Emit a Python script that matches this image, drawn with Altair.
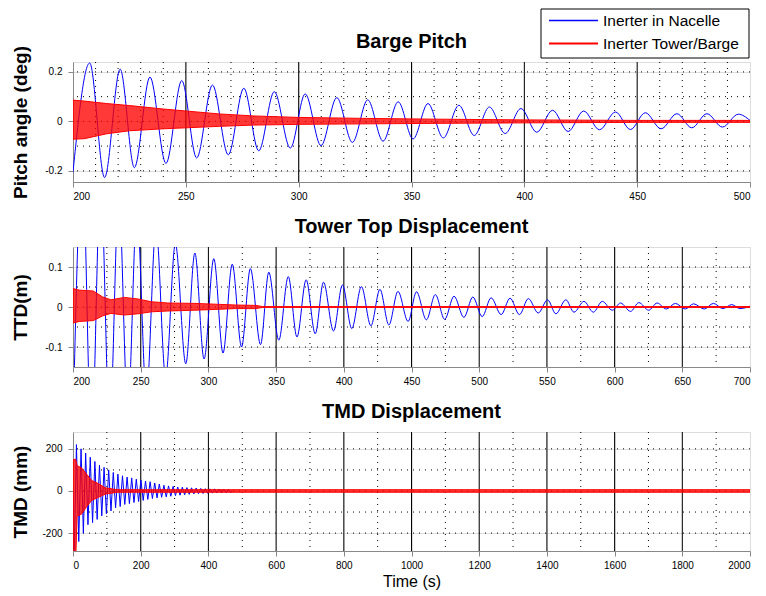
import altair as alt
import pandas as pd

FONT = "Liberation Sans"
BLUE = "#0000FF"
RED = "#FF0000"

legend_labels = ["Inerter in Nacelle", "Inerter Tower/Barge"]

# ---------------- Panel 1 : Barge Pitch ----------------
pitch_titles = ["Barge Pitch", "Pitch angle (deg)"]
pitch_xticks = [200, 250, 300, 350, 400, 450, 500]
pitch_yticks = [-0.2, 0, 0.2]
pitch_x_major = [250, 300, 350, 400, 450]
pitch_x_minor = [210, 220, 230, 240, 260, 270, 280, 290, 310, 320, 330, 340,
                 360, 370, 380, 390, 410, 420, 430, 440, 460, 470, 480, 490]
pitch_y_grid = [-0.2, -0.1, 0, 0.1, 0.2]

pitch_blue_t = [200.0, 207.4, 214.0, 220.9, 227.2, 234.1, 241.2, 248.2, 254.8, 261.8,
                268.8, 275.7, 282.3, 289.2, 296.3, 302.9, 309.9, 316.9, 323.8, 330.6,
                337.4, 344.1, 350.7, 357.3, 364.1, 371.0, 377.8, 384.5, 391.5, 398.5,
                405.5, 412.5, 419.4, 426.3, 433.3, 440.4, 447.0, 453.6, 460.6, 467.6,
                474.2, 480.9, 487.8, 494.8, 500.0]
pitch_blue_v = [-0.205, 0.236, -0.227, 0.211, -0.187, 0.179, -0.170, 0.165, -0.148, 0.147,
                -0.135, 0.134, -0.119, 0.120, -0.108, 0.111, -0.098, 0.096, -0.085, 0.087,
                -0.080, 0.079, -0.071, 0.072, -0.067, 0.065, -0.057, 0.058, -0.049, 0.052,
                -0.044, 0.045, -0.041, 0.042, -0.034, 0.038, -0.033, 0.035, -0.030, 0.031,
                -0.026, 0.031, -0.023, 0.029, 0.004]

pitch_red_t = [200, 205, 215, 225, 240, 250, 265, 280, 300, 330, 360, 400, 450, 500]
pitch_red_hi = [0.086, 0.082, 0.072, 0.064, 0.050, 0.042, 0.030, 0.022, 0.016, 0.012,
                0.009, 0.006, 0.004, 0.004]
pitch_red_lo = [-0.072, -0.070, -0.050, -0.038, -0.030, -0.026, -0.020, -0.015, -0.012,
                -0.010, -0.008, -0.006, -0.004, -0.004]

# ---------------- Panel 2 : Tower Top Displacement ----------------
ttd_titles = ["Tower Top Displacement", "TTD(m)"]
ttd_xticks = [200, 250, 300, 350, 400, 450, 500, 550, 600, 650, 700]
ttd_yticks = [-0.1, 0, 0.1]
ttd_x_major = [250, 300, 350, 400, 450, 500, 550, 600, 650]
ttd_x_minor = [225, 275, 325, 375, 425, 475, 525, 575, 625, 675]
ttd_y_grid = [-0.1, -0.05, 0, 0.05, 0.1]

ttd_blue_t = [200.0, 206.9, 213.7, 220.4, 227.1, 233.8, 240.5, 247.2, 254.2, 261.3,
              268.4, 275.6, 283.3, 290.0, 296.8, 304.0, 310.8, 317.6, 324.5, 331.0,
              338.5, 344.6, 352.0, 359.0, 365.4, 372.2, 378.9, 385.0, 392.4, 399.0,
              405.9, 413.0, 420.0, 426.7, 433.3, 440.0, 447.5, 453.7, 461.0, 467.6,
              474.5, 481.4, 488.7, 495.3, 502.2, 508.8, 516.2, 522.8, 529.7, 536.3,
              543.6, 550.5, 556.6, 564.0, 570.0, 577.4, 584.3, 590.9, 598.3, 604.4,
              611.8, 617.9, 625.2, 631.4, 638.2, 644.9, 652.2, 658.3, 666.2, 673.0,
              680.0, 686.5, 692.6, 700.0]
ttd_blue_v = [-0.30, 0.36, -0.34, 0.32, -0.30, 0.28, -0.26, 0.24, -0.22, 0.20,
              -0.175, 0.158, -0.142, 0.135, -0.13, 0.121, -0.115, 0.107, -0.10, 0.096,
              -0.094, 0.087, -0.083, 0.076, -0.075, 0.068, -0.067, 0.062, -0.06, 0.055,
              -0.054, 0.051, -0.047, 0.044, -0.045, 0.039, -0.036, 0.038, -0.032, 0.031,
              -0.031, 0.027, -0.026, 0.025, -0.024, 0.023, -0.019, 0.022, -0.019, 0.021,
              -0.015, 0.018, -0.017, 0.018, -0.013, 0.014, -0.013, 0.014, -0.008, 0.010,
              -0.011, 0.011, -0.008, 0.010, -0.005, 0.009, -0.005, 0.008, -0.005, 0.009,
              -0.004, 0.006, -0.004, 0.002]

ttd_red_t = [200, 205, 215, 222, 228, 238, 248, 258, 270, 290, 305, 320, 335, 340, 700]
ttd_red_hi = [0.046, 0.042, 0.040, 0.025, 0.018, 0.024, 0.020, 0.013, 0.010, 0.009,
              0.007, 0.005, 0.004, 0.001, 0.001]
ttd_red_lo = [-0.040, -0.036, -0.034, -0.022, -0.016, -0.020, -0.017, -0.012, -0.010,
              -0.008, -0.006, -0.004, -0.004, -0.001, -0.001]

# ---------------- Panel 3 : TMD Displacement ----------------
tmd_titles = ["TMD Displacement", "TMD  (mm)", "Time (s)"]
tmd_xticks = [0, 200, 400, 600, 800, 1000, 1200, 1400, 1600, 1800, 2000]
tmd_yticks = [-200, 0, 200]
tmd_x_major = [200, 400, 600, 800, 1000, 1200, 1400, 1600, 1800]
tmd_x_minor = [100, 300, 500, 700, 900, 1100, 1300, 1500, 1700, 1900]
tmd_y_grid = [-200, -100, 0, 100, 200]

tmd_blue_t = [0, 3.4, 10.2, 17.0, 23.8, 30.6, 37.4, 44.2, 51.0, 57.8,
              64.6, 71.4, 78.2, 85.0, 91.8, 98.6, 105.4, 112.2, 119.0, 125.8,
              132.6, 139.4, 146.2, 153.0, 159.8, 166.6, 173.4, 180.2, 187.0, 193.8,
              200.6, 207.4, 214.2, 221.0, 227.8, 234.6, 241.4, 248.2, 255.0, 261.8,
              268.6, 275.4, 282.2, 289.0, 295.8, 302.6, 309.4, 316.2, 323.0, 329.8,
              336.6, 343.4, 350.2, 357.0, 363.8, 370.6, 377.4, 384.2, 391.0, 397.8,
              404.6, 411.4, 418.2, 425.0, 431.8, 438.6, 445.4, 452.2, 459.0, 465.8,
              470.0]
tmd_blue_v = [0, -330, 220, -240, 200, -200, 180, -160, 160, -150,
              140, -135, 122, -118, 112, -108, 100, -95, 88, -80,
              80, -74, 72, -64, 66, -60, 62, -55, 56, -50,
              52, -45, 47, -40, 44, -36, 38, -33, 33, -30,
              27, -28, 24, -25, 22, -22, 19, -20, 18, -18,
              16, -16, 15, -14, 14, -13, 12, -12, 11, -11,
              10, -10, 10, -9, 9, -9, 8, -8, 8, -7,
              0]

tmd_red_t = [0, 1, 8, 12, 25, 40, 55, 75, 95, 130, 2000]
tmd_red_hi = [0, 150, 150, 120, 110, 80, 50, 35, 15, 6, 6]
tmd_red_lo = [0, -330, -330, -120, -110, -75, -45, -30, -15, -6, -6]

W = 677
NEG_LABEL = "datum.value < 0 ? '-' + format(-datum.value, '~g') : format(datum.value, '~g')"
ONE = pd.DataFrame({"k": [0]})


def panel(titles, xdom, xticks, ydom, yticks, x_major, x_minor, y_grid,
          blue_t, blue_v, red_t, red_hi, red_lo, interp):
    xs = alt.Scale(domain=xdom, nice=False, zero=False)
    ys = alt.Scale(domain=ydom, nice=False, zero=False)
    xtitle = titles[2] if len(titles) > 2 else None
    xax = alt.Axis(values=xticks, title=xtitle, labelPadding=4, titlePadding=3,
                   titleFontSize=16, titleFontWeight="normal", labelExpr=NEG_LABEL)
    yax = alt.Axis(values=yticks, title=titles[1], labelPadding=6, titlePadding=3,
                   minExtent=40, maxExtent=40, titleFontSize=19,
                   titleFontWeight="bold", labelExpr=NEG_LABEL)
    X = alt.X("t:Q", scale=xs, axis=xax)
    Y = alt.Y("v:Q", scale=ys, axis=yax)

    minor = alt.Chart(pd.DataFrame({"t": x_minor})).mark_rule(
        color="black", strokeWidth=1, strokeDash=[1, 5]).encode(x=X)
    major = alt.Chart(pd.DataFrame({"t": x_major})).mark_rule(
        color="black", strokeWidth=1).encode(x=X)
    hgrid = alt.Chart(pd.DataFrame({"v": y_grid})).mark_rule(
        color="black", strokeWidth=1, strokeDash=[1, 5]).encode(y=Y)
    blue = alt.Chart(pd.DataFrame({"t": blue_t, "v": blue_v})).mark_line(
        color=BLUE, strokeWidth=1, interpolate=interp, clip=True).encode(x=X, y=Y)
    red = alt.Chart(pd.DataFrame({"t": red_t, "hi": red_hi, "lo": red_lo})).mark_area(
        fill=RED, fillOpacity=0.78, stroke=RED, strokeWidth=1, clip=True).encode(
        x=X, y=alt.Y("hi:Q", scale=ys, axis=yax), y2="lo:Q")
    title = alt.Chart(ONE).mark_text(
        align="center", baseline="alphabetic", font=FONT, fontSize=20,
        fontWeight="bold", color="black").encode(
        x=alt.value(W / 2), y=alt.value(-14), text=alt.value(titles[0]))
    return [minor, major, hgrid, blue, red, title]


def legend_layers():
    box = alt.Chart(ONE).mark_rect(fill="white", stroke="black", strokeWidth=1).encode(
        x=alt.value(468), x2=alt.value(676), y=alt.value(-53), y2=alt.value(-4))
    l1 = alt.Chart(ONE).mark_rule(strokeWidth=1.6).encode(
        x=alt.value(476), x2=alt.value(525), y=alt.value(-41.5),
        color=alt.value(BLUE))
    l2 = alt.Chart(ONE).mark_rule(strokeWidth=1.8).encode(
        x=alt.value(476), x2=alt.value(525), y=alt.value(-18.5),
        color=alt.value(RED))
    t1 = alt.Chart(ONE).mark_text(align="left", baseline="middle", font=FONT,
                                  fontSize=15.5, color="black").encode(
        x=alt.value(530), y=alt.value(-41.5), text=alt.value(legend_labels[0]))
    t2 = alt.Chart(ONE).mark_text(align="left", baseline="middle", font=FONT,
                                  fontSize=15.5, color="black").encode(
        x=alt.value(530), y=alt.value(-18.5), text=alt.value(legend_labels[1]))
    return [box, l1, l2, t1, t2]


l1 = panel(pitch_titles, [200, 500], pitch_xticks, [-0.245, 0.24], pitch_yticks,
           pitch_x_major, pitch_x_minor, pitch_y_grid, pitch_blue_t, pitch_blue_v,
           pitch_red_t, pitch_red_hi, pitch_red_lo, "monotone")
p1 = alt.layer(*l1, *legend_layers()).properties(width=W, height=120)

l2 = panel(ttd_titles, [200, 700], ttd_xticks, [-0.15, 0.15], ttd_yticks,
           ttd_x_major, ttd_x_minor, ttd_y_grid, ttd_blue_t, ttd_blue_v,
           ttd_red_t, ttd_red_hi, ttd_red_lo, "monotone")
p2 = alt.layer(*l2).properties(width=W, height=120)

l3 = panel(tmd_titles, [0, 2000], tmd_xticks, [-285, 280], tmd_yticks,
           tmd_x_major, tmd_x_minor, tmd_y_grid, tmd_blue_t, tmd_blue_v,
           tmd_red_t, tmd_red_hi, tmd_red_lo, "linear")
p3 = alt.layer(*l3).properties(width=W, height=119)

chart = alt.vconcat(p1, p2, p3, spacing=65, bounds="flush").properties(
    padding={"left": 2, "top": 0, "right": 5, "bottom": 5}
).configure_view(stroke="black", strokeWidth=1).configure_axis(
    labelFont=FONT, labelFontSize=16, labelColor="black", titleFont=FONT,
    titleColor="black", domain=False, ticks=False, grid=False,
    labelFlush=False, labelOverlap=False
).configure(background="white")

chart.save("out.html", embed_options={"renderer": "svg", "actions": False})
